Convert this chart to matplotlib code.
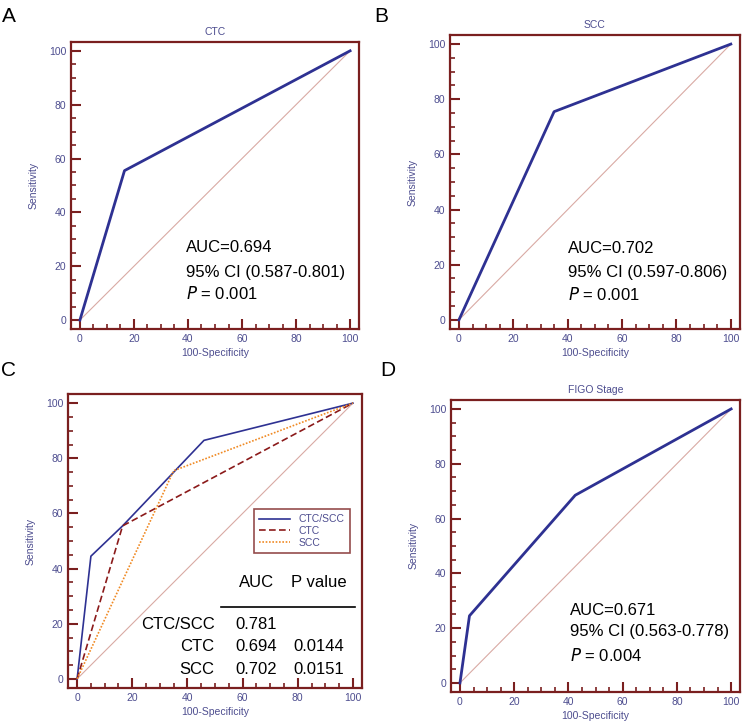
import matplotlib
matplotlib.use('agg')
import matplotlib.pyplot as plt
from matplotlib.ticker import MultipleLocator

plt.rcParams['font.family'] = ['Liberation Sans', 'DejaVu Sans']

# ROC curve points (100-Specificity, Sensitivity)
ctc_x = [0, 16.5, 100]
ctc_y = [0, 55.5, 100]
scc_x = [0, 35, 100]
scc_y = [0, 75.5, 100]
combo_x = [0, 5, 16.5, 46, 100]
combo_y = [0, 44.5, 55.5, 86.5, 100]
figo_x = [0, 3.5, 42.5, 100]
figo_y = [0, 24.5, 68.5, 100]

stats_ctc = ["AUC=0.694", "95% CI (0.587-0.801)", "$\\it{P}$ = 0.001"]
stats_scc = ["AUC=0.702", "95% CI (0.597-0.806)", "$\\it{P}$ = 0.001"]
stats_figo = ["AUC=0.671", "95% CI (0.563-0.778)", "$\\it{P}$ = 0.004"]

table_rows = ["CTC/SCC", "CTC", "SCC"]
table_auc = ["0.781", "0.694", "0.702"]
table_p = ["", "0.0144", "0.0151"]

FRAME = '#7a1f1f'
BLUE = '#2e3192'
LABEL = '#4d4d8f'
DIAG = '#d9aaa4'


def setup_axes(ax, title=None):
    ax.set_xlim(-3.3, 103.3)
    ax.set_ylim(-3.3, 103.3)
    for s in ax.spines.values():
        s.set_color(FRAME)
        s.set_linewidth(1.6)
    ax.xaxis.set_major_locator(MultipleLocator(20))
    ax.yaxis.set_major_locator(MultipleLocator(20))
    ax.xaxis.set_minor_locator(MultipleLocator(5))
    ax.yaxis.set_minor_locator(MultipleLocator(5))
    ax.tick_params(which='major', direction='in', length=7, width=1.5,
                   color=FRAME, labelcolor=LABEL, labelsize=7.5, pad=3.5)
    ax.tick_params(which='minor', direction='in', length=3.5, width=1.2, color=FRAME)
    ax.set_xlabel("100-Specificity", color=LABEL, fontsize=7.5, labelpad=3)
    ax.set_ylabel("Sensitivity", color=LABEL, fontsize=7.5, labelpad=7)
    if title:
        ax.set_title(title, color=LABEL, fontsize=7.5, pad=5)
    ax.plot([0, 100], [0, 100], color=DIAG, lw=0.8)


def add_stats(ax, lines, x, ys):
    for t, y in zip(lines, ys):
        ax.text(x, y, t, fontsize=12, va='center', ha='left', color='black')


fig = plt.figure(figsize=(7.45, 7.23), dpi=100)
axA = fig.add_axes([0.0953, 0.545, 0.3866, 0.397])
axB = fig.add_axes([0.604, 0.545, 0.389, 0.4066])
axC = fig.add_axes([0.0913, 0.0484, 0.3946, 0.4066])
axD = fig.add_axes([0.6054, 0.0429, 0.388, 0.404])

setup_axes(axA, "CTC")
axA.plot(ctc_x, ctc_y, color=BLUE, lw=2)
add_stats(axA, stats_ctc, 39.3, [27.1, 17.8, 9.7])

setup_axes(axB, "SCC")
axB.plot(scc_x, scc_y, color=BLUE, lw=2)
add_stats(axB, stats_scc, 40.2, [25.8, 17.1, 9.1])

setup_axes(axC)
axC.plot(combo_x, combo_y, color=BLUE, lw=1.2, label="CTC/SCC")
axC.plot(ctc_x, ctc_y, color='#8b1a1a', lw=1.2, ls=(0, (4, 2)), label="CTC")
axC.plot(scc_x, scc_y, color='#f08a24', lw=1.2, ls=(0, (1, 1)), label="SCC")
leg = axC.legend(loc='upper right', bbox_to_anchor=(0.976, 0.626), fontsize=7.5,
                 frameon=True, fancybox=False, borderpad=0.5, handlelength=3,
                 labelspacing=0.15)
leg.get_frame().set_edgecolor(FRAME)
leg.get_frame().set_linewidth(1.2)
for t in leg.get_texts():
    t.set_color(LABEL)

axC.text(65, 34.8, "AUC", fontsize=12, ha='center', va='center')
axC.text(87.7, 34.8, "P value", fontsize=12, ha='center', va='center')
axC.plot([52, 100.7], [26.1, 26.1], color='black', lw=1.2)
for name, auc, p, y in zip(table_rows, table_auc, table_p, [19.9, 11.6, 3.3]):
    axC.text(49.8, y, name, fontsize=12, ha='right', va='center')
    axC.text(65, y, auc, fontsize=12, ha='center', va='center')
    axC.text(87.7, y, p, fontsize=12, ha='center', va='center')

setup_axes(axD, "FIGO Stage")
axD.plot(figo_x, figo_y, color=BLUE, lw=2)
add_stats(axD, stats_figo, 40.4, [26.6, 18.6, 9.9])

for lab, x, y in [("A", 0.002, 0.99), ("B", 0.503, 0.99), ("C", 0.002, 0.50), ("D", 0.51, 0.50)]:
    fig.text(x, y, lab, fontsize=15, ha='left', va='top')

fig.savefig("out.png", dpi=100)
